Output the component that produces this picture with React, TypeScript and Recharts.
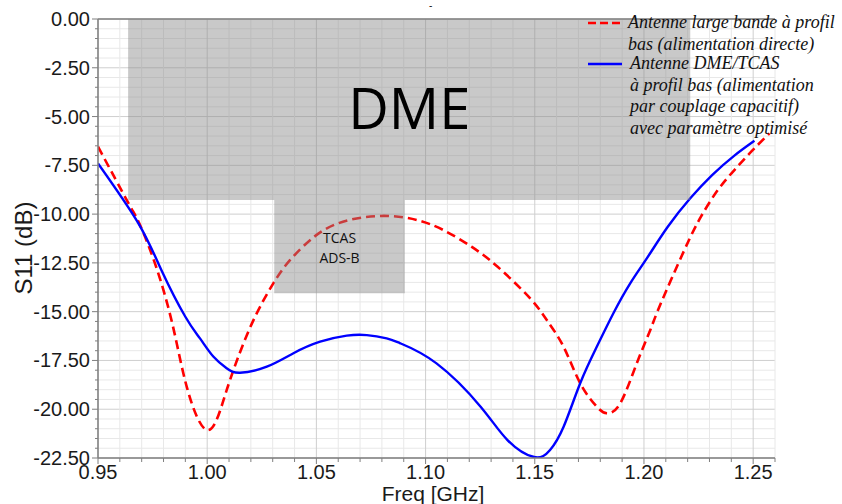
import React from "react";
import {
  LineChart, Line, XAxis, YAxis, CartesianGrid, ReferenceArea, ReferenceLine,
} from "recharts";

// Antenne large bande (alimentation directe) – red dashed
const redFreq = [
  0.95, 0.964, 0.969, 0.976, 0.984, 0.991, 1.0, 1.007, 1.012, 1.0205, 1.03,
  1.038, 1.049, 1.06, 1.072, 1.084, 1.096, 1.108, 1.121, 1.133, 1.1479,
  1.1555, 1.1632, 1.1708, 1.1784, 1.183, 1.1891, 1.1967, 1.2029, 1.2074, 1.2185,
  1.2261, 1.2338, 1.2414, 1.2491, 1.2575,
];
const redS11 = [
  -6.54, -9.45, -10.5, -12.5, -15.6, -19.0, -21.07, -19.7, -18.0, -15.6, -13.6,
  -12.35, -11.16, -10.47, -10.16, -10.1, -10.3, -10.81, -11.67, -12.7, -14.32,
  -15.43, -16.8, -18.67, -19.87, -20.21, -19.7, -17.65, -15.94, -14.66, -11.84,
  -10.13, -8.77, -7.74, -6.8, -5.86,
];

// Antenne DME/TCAS (couplage capacitif) – blue
const blueFreq = [
  0.95, 0.9685, 0.979, 0.99, 0.9967, 1.0028, 1.0089, 1.015, 1.0273, 1.0395, 1.0517,
  1.0639, 1.0731, 1.0822, 1.0884, 1.105, 1.1252, 1.1375, 1.1497, 1.157,
  1.1632, 1.1708, 1.1784, 1.186, 1.1937, 1.2013, 1.2109, 1.2212, 1.2312, 1.2414,
  1.2506,
];
const blueS11 = [
  -7.4, -10.47, -12.86, -15.26, -16.37, -17.3, -17.9, -18.13, -17.82, -17.13, -16.54,
  -16.23, -16.2, -16.37, -16.62, -17.65, -19.87, -21.58, -22.45, -22.09,
  -20.9, -18.67, -16.8, -15.08, -13.55, -12.27, -10.65, -9.19, -8.0, -7.0,
  -6.24,
];

const xMajorTicks = [0.95, 1.0, 1.05, 1.1, 1.15, 1.2, 1.25];
const yMajorTicks = [0, -2.5, -5, -7.5, -10, -12.5, -15, -17.5, -20, -22.5];

// bands
const dmeBand = { f1: 0.9638, f2: 1.2212, top: 0, bottom: -9.28 };
const tcasBand = { f1: 1.0307, f2: 1.0905, top: -9.28, bottom: -14.06 };

// minor ticks / grid
const xTicks = Array.from({ length: 32 }, (_, i) => Math.round((0.95 + i * 0.01) * 100) / 100);
const yTicks = Array.from({ length: 46 }, (_, i) => -i * 0.5);

const redData = redFreq.map((f, i) => ({ f, v: redS11[i] }));
const blueData = blueFreq.map((f, i) => ({ f, v: blueS11[i] }));

const axisFont = "'Liberation Sans', Arial, sans-serif";
const isMajorX = (v: number) => xMajorTicks.some((t) => Math.abs(t - v) < 1e-6);
const isMajorY = (v: number) => yMajorTicks.some((t) => Math.abs(t - v) < 1e-6);

const XTick = ({ x, y, payload }: any) => {
  const major = isMajorX(payload.value);
  return (
    <g>
      <line x1={x} x2={x} y1={y} y2={y + (major ? 6 : 4)} stroke="#7f7f7f" />
      {major && (
        <text x={x} y={y + 21} textAnchor="middle" fontSize={20} fontFamily={axisFont} fill="#1a1a1a">
          {payload.value.toFixed(2)}
        </text>
      )}
    </g>
  );
};

const YTick = ({ x, y, payload }: any) => {
  const major = isMajorY(payload.value);
  return (
    <g>
      <line x1={x - (major ? 6 : 3)} x2={x} y1={y} y2={y} stroke="#7f7f7f" />
      {major && (
        <text x={x - 8} y={y + 7} textAnchor="end" fontSize={20} fontFamily={axisFont} fill="#1a1a1a">
          {payload.value.toFixed(2)}
        </text>
      )}
    </g>
  );
};

const hLine = (p: any) => (
  <line key={`h-${p.index}`} x1={p.x1} x2={p.x2} y1={p.y1} y2={p.y2}
    stroke={p.index % 5 === 0 ? "#cfcfcf" : "#e8e8e8"} strokeWidth={1} />
);
const vLine = (p: any) => (
  <line key={`v-${p.index}`} x1={p.x1} x2={p.x2} y1={p.y1} y2={p.y2}
    stroke={p.index % 5 === 0 ? "#cfcfcf" : "#e8e8e8"} strokeWidth={1} />
);

const TcasLabel = ({ viewBox }: any) => {
  const cx = viewBox.x + viewBox.width / 2;
  const cy = viewBox.y + viewBox.height / 2;
  return (
    <g fontFamily="'Open Sans', 'Noto Sans', sans-serif" fontSize={14} fill="#111" textAnchor="middle">
      <text x={cx} y={cy - 4}>TCAS</text>
      <text x={cx} y={cy + 16}>ADS-B</text>
    </g>
  );
};

const legendText: React.CSSProperties = {
  fontFamily: "'Liberation Serif', 'Times New Roman', serif",
  fontStyle: "italic",
  fontSize: 18,
  lineHeight: "21.5px",
  color: "#111",
  whiteSpace: "nowrap",
};

export default function App() {
  return (
    <div style={{ position: "absolute", left: 0, top: 0, width: 842, height: 504, background: "#fff" }}>
      <LineChart
        width={842}
        height={504}
        margin={{ top: 19, right: 67, bottom: 0, left: 0 }}
      >
        <CartesianGrid horizontal={hLine} vertical={vLine} />
        <XAxis
          dataKey="f"
          type="number"
          domain={[0.95, 1.26]}
          ticks={xTicks}
          interval={0}
          height={46}
          tickSize={0}
          tickMargin={0}
          tickLine={false}
          tick={<XTick />}
          axisLine={{ stroke: "#7f7f7f", strokeWidth: 1.5 }}
          allowDataOverflow
        />
        <YAxis
          type="number"
          domain={[-22.5, 0]}
          ticks={yTicks}
          interval={0}
          width={98}
          tickSize={0}
          tickMargin={0}
          tickLine={false}
          tick={<YTick />}
          axisLine={{ stroke: "#7f7f7f", strokeWidth: 1.5 }}
          allowDataOverflow
        />
        <ReferenceLine y={0} stroke="#7f7f7f" strokeWidth={1.5} />
        <Line
          data={redData}
          dataKey="v"
          type="natural"
          stroke="#ff0000"
          strokeWidth={2.6}
          strokeDasharray="9 5"
          dot={false}
          activeDot={false}
          isAnimationActive={false}
        />
        <Line
          data={blueData}
          dataKey="v"
          type="natural"
          stroke="#0000ff"
          strokeWidth={2.4}
          dot={false}
          activeDot={false}
          isAnimationActive={false}
        />
        <ReferenceArea
          x1={dmeBand.f1} x2={dmeBand.f2} y1={dmeBand.bottom} y2={dmeBand.top}
          fill="#888888" fillOpacity={0.45} stroke="none"
          zIndex={450}
          label={{ value: "DME", position: "center", fontSize: 56, fill: "#000", fontFamily: "'Open Sans', 'Noto Sans', sans-serif" }}
        />
        <ReferenceArea
          x1={tcasBand.f1} x2={tcasBand.f2} y1={tcasBand.bottom} y2={tcasBand.top}
          fill="#888888" fillOpacity={0.45} stroke="none"
          zIndex={450}
          label={<TcasLabel />}
        />
      </LineChart>

      {/* axis titles */}
      <div style={{
        position: "absolute", left: 24, top: 248, transform: "translate(-50%, -50%) rotate(-90deg)",
        fontFamily: axisFont, fontSize: 24, color: "#1a1a1a", whiteSpace: "nowrap", lineHeight: 1,
      }}>
        S11 (dB)
      </div>
      <div style={{
        position: "absolute", left: 433, top: 493, transform: "translate(-50%, -50%)",
        fontFamily: axisFont, fontSize: 21, color: "#1a1a1a", whiteSpace: "nowrap", lineHeight: 1,
      }}>
        Freq [GHz]
      </div>
      <div style={{ position: "absolute", left: 429, top: 0, fontFamily: axisFont, fontSize: 10, color: "#111" }}>-</div>

      {/* legend */}
      <div style={{ position: "absolute", left: 586, top: 12 }}>
        <div style={{ display: "flex", alignItems: "flex-start" }}>
          <svg width={42} height={22}>
            <line x1={2} x2={36} y1={11} y2={11} stroke="#ff0000" strokeWidth={2.6} strokeDasharray="8 4" />
          </svg>
          <div style={legendText}>
            Antenne large bande à profil<br />bas (alimentation directe)
          </div>
        </div>
        <div style={{ display: "flex", alignItems: "flex-start", marginTop: -2 }}>
          <svg width={44} height={22}>
            <line x1={2} x2={36} y1={11} y2={11} stroke="#0000ff" strokeWidth={2.4} />
          </svg>
          <div style={legendText}>
            Antenne DME/TCAS<br />à profil bas (alimentation<br />par couplage capacitif)<br />avec paramètre optimisé
          </div>
        </div>
      </div>
    </div>
  );
}
